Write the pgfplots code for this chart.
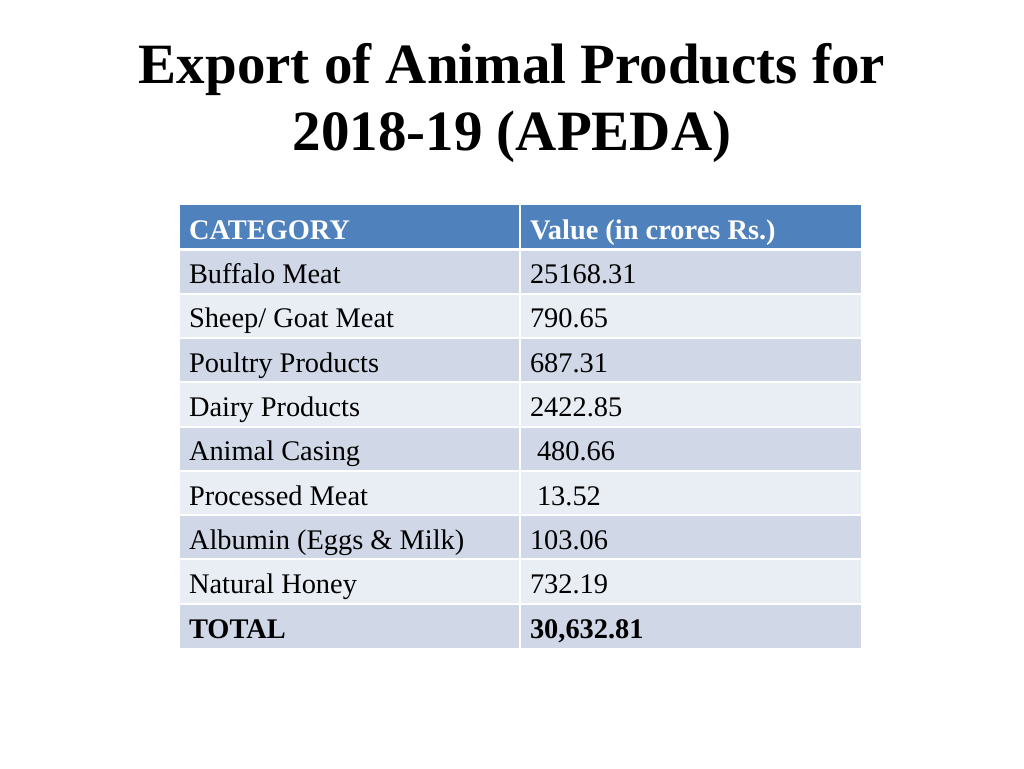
\documentclass[border=0pt]{standalone}
\usepackage{fontspec}
\setmainfont{Liberation Serif}
\usepackage{pgfplots}
\pgfplotsset{compat=1.18}
\definecolor{hdr}{HTML}{4F81BD}
\definecolor{rdark}{HTML}{D0D8E8}
\definecolor{rlight}{HTML}{E9EDF4}
\newcommand{\tfont}{\fontsize{28.4}{32}\selectfont}
\begin{document}
\begin{tikzpicture}
\begin{axis}[
  scale only axis, width=1024pt, height=768pt,
  xmin=0, xmax=1024, ymin=0, ymax=768, y dir=reverse,
  axis lines=none, clip=false,
  nodes={inner sep=0pt, outer sep=0pt},
]
% page background
\addplot[fill=white, draw=none] coordinates {(0,0) (1024,0) (1024,768) (0,768)} -- cycle;
% row fills
\addplot[fill=hdr, draw=none] coordinates {(180,205) (861,205) (861,249.3) (180,249.3)} -- cycle;
\addplot[fill=rdark, draw=none] coordinates {(180,249.3) (861,249.3) (861,293.6) (180,293.6)} -- cycle;
\addplot[fill=rlight, draw=none] coordinates {(180,293.6) (861,293.6) (861,337.9) (180,337.9)} -- cycle;
\addplot[fill=rdark, draw=none] coordinates {(180,337.9) (861,337.9) (861,382.2) (180,382.2)} -- cycle;
\addplot[fill=rlight, draw=none] coordinates {(180,382.2) (861,382.2) (861,426.5) (180,426.5)} -- cycle;
\addplot[fill=rdark, draw=none] coordinates {(180,426.5) (861,426.5) (861,470.8) (180,470.8)} -- cycle;
\addplot[fill=rlight, draw=none] coordinates {(180,470.8) (861,470.8) (861,515.1) (180,515.1)} -- cycle;
\addplot[fill=rdark, draw=none] coordinates {(180,515.1) (861,515.1) (861,559.4) (180,559.4)} -- cycle;
\addplot[fill=rlight, draw=none] coordinates {(180,559.4) (861,559.4) (861,603.7) (180,603.7)} -- cycle;
\addplot[fill=rdark, draw=none] coordinates {(180,603.7) (861,603.7) (861,648) (180,648)} -- cycle;
% white grid lines
\addplot[white, line width=2pt] coordinates {(520,205) (520,648)};
\addplot[white, line width=2.5pt] coordinates {(180,249.3) (861,249.3)};
\addplot[white, line width=2pt] coordinates {(180,293.6) (861,293.6)};
\addplot[white, line width=2pt] coordinates {(180,337.9) (861,337.9)};
\addplot[white, line width=2pt] coordinates {(180,382.2) (861,382.2)};
\addplot[white, line width=2pt] coordinates {(180,426.5) (861,426.5)};
\addplot[white, line width=2pt] coordinates {(180,470.8) (861,470.8)};
\addplot[white, line width=2pt] coordinates {(180,515.1) (861,515.1)};
\addplot[white, line width=2pt] coordinates {(180,559.4) (861,559.4)};
\addplot[white, line width=2pt] coordinates {(180,603.7) (861,603.7)};
% title
\node[anchor=base, font=\fontsize{57}{60}\selectfont\bfseries] at (axis cs:512,83) {Export of Animal Products for};
\node[anchor=base, font=\fontsize{57}{60}\selectfont\bfseries] at (axis cs:512,150) {2018-19 (APEDA)};
% header
\node[anchor=base west, font=\tfont\bfseries, text=white] at (axis cs:189,239.3) {CATEGORY};
\node[anchor=base west, font=\tfont\bfseries, text=white] at (axis cs:530,239.3) {Value (in crores Rs.)};
% rows
\node[anchor=base west, font=\tfont] at (axis cs:189,283.6) {Buffalo Meat};
\node[anchor=base west, font=\tfont] at (axis cs:530,283.6) {25168.31};
\node[anchor=base west, font=\tfont] at (axis cs:189,327.9) {Sheep/ Goat Meat};
\node[anchor=base west, font=\tfont] at (axis cs:530,327.9) {790.65};
\node[anchor=base west, font=\tfont] at (axis cs:189,372.2) {Poultry Products};
\node[anchor=base west, font=\tfont] at (axis cs:530,372.2) {687.31};
\node[anchor=base west, font=\tfont] at (axis cs:189,416.5) {Dairy Products};
\node[anchor=base west, font=\tfont] at (axis cs:530,416.5) {2422.85};
\node[anchor=base west, font=\tfont] at (axis cs:189,460.8) {Animal Casing};
\node[anchor=base west, font=\tfont] at (axis cs:537,460.8) {480.66};
\node[anchor=base west, font=\tfont] at (axis cs:189,505.1) {Processed Meat};
\node[anchor=base west, font=\tfont] at (axis cs:537,505.1) {13.52};
\node[anchor=base west, font=\tfont] at (axis cs:189,549.4) {Albumin (Eggs \& Milk)};
\node[anchor=base west, font=\tfont] at (axis cs:530,549.4) {103.06};
\node[anchor=base west, font=\tfont] at (axis cs:189,593.7) {Natural Honey};
\node[anchor=base west, font=\tfont] at (axis cs:530,593.7) {732.19};
\node[anchor=base west, font=\tfont\bfseries] at (axis cs:189,638) {TOTAL};
\node[anchor=base west, font=\tfont\bfseries] at (axis cs:530,638) {30,632.81};
\end{axis}
\end{tikzpicture}
\end{document}
